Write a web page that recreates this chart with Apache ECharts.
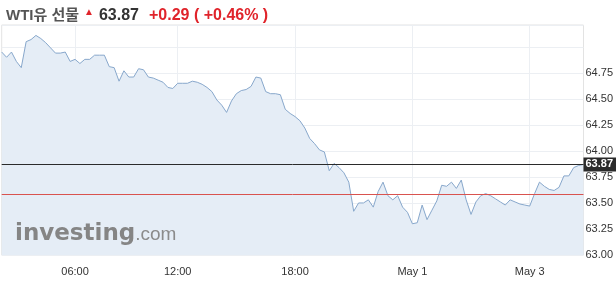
<!DOCTYPE html>
<html><head><meta charset="utf-8">
<script src="https://cdn.jsdelivr.net/npm/echarts@6/dist/echarts.min.js"></script>
<style>html,body{margin:0;padding:0;background:#fff}#c{width:616px;height:290px}</style>
</head><body><div id="c"></div>
<script>
const instrument = 'WTI유 선물';
const lastPrice = 63.87;
const prevClose = 63.58;
const changeAbs = '+0.29';
const changePct = '+0.46%';
const priceValues = [
  64.95, 64.90, 64.95, 64.86, 64.80, 65.05, 65.07, 65.11, 65.08, 65.04,
  64.99, 64.94, 64.94, 64.95, 64.86, 64.88, 64.84, 64.88, 64.88, 64.92,
  64.92, 64.92, 64.81, 64.80, 64.67, 64.77, 64.71, 64.71, 64.79, 64.78,
  64.71, 64.70, 64.68, 64.66, 64.61, 64.60, 64.65, 64.65, 64.65, 64.67,
  64.66, 64.64, 64.61, 64.57, 64.49, 64.44, 64.37, 64.48, 64.55, 64.58,
  64.59, 64.62, 64.71, 64.70, 64.57, 64.55, 64.55, 64.54, 64.40, 64.36,
  64.33, 64.29, 64.22, 64.12, 64.07, 64.01, 63.99, 63.81, 63.88, 63.84,
  63.79, 63.70, 63.42, 63.50, 63.50, 63.53, 63.46, 63.61, 63.70, 63.57,
  63.53, 63.57, 63.46, 63.41, 63.30, 63.31, 63.48, 63.34, 63.43, 63.52,
  63.67, 63.66, 63.70, 63.64, 63.72, 63.53, 63.39, 63.51, 63.57, 63.59,
  63.57, 63.54, 63.51, 63.48, 63.53, 63.51, 63.49, 63.48, 63.47, 63.59,
  63.70, 63.66, 63.63, 63.62, 63.65, 63.76, 63.76, 63.84, 63.86, 63.87
];
const xTickIndex = [15, 36, 60, 84, 108];
const xTickLabels = ['06:00', '12:00', '18:00', 'May 1', 'May 3'];
const yTickValues = [63.00, 63.25, 63.50, 63.75, 64.00, 64.25, 64.50, 64.75];
const yTickLabels = ['63.00', '63.25', '63.50', '63.75', '64.00', '64.25', '64.50', '64.75'];

const categories = priceValues.map((_, i) => String(i));
const red = '#e0242b';
const chart = echarts.init(document.getElementById('c'), null, {renderer: 'canvas'});
chart.setOption({
  animation: false,
  backgroundColor: '#fff',
  title: {
    left: 1, top: 1,
    text: `{a|${instrument}} {u|▲} {b|${lastPrice.toFixed(2)}}  {c|${changeAbs} ( ${changePct} )}`,
    textStyle: {
      rich: {
        a: {fontSize: 15, color: '#555', fontFamily: 'Liberation Sans, Noto Sans CJK KR', lineHeight: 20},
        u: {fontSize: 10, color: red, padding: [0, 0, 7, 0], lineHeight: 20},
        b: {fontSize: 16, color: '#333', fontFamily: 'Liberation Sans', lineHeight: 20},
        c: {fontSize: 16, color: red, fontFamily: 'Liberation Sans', lineHeight: 20}
      }
    }
  },
  grid: {left: 1.7, right: 30.3, top: 25, bottom: 35, show: true, borderColor: '#e3e3e3', borderWidth: 1},
  xAxis: {
    type: 'category', data: categories, boundaryGap: false,
    axisLine: {show: false}, axisTick: {show: false},
    axisLabel: {
      interval: (i) => xTickIndex.includes(i),
      formatter: (v) => { const k = xTickIndex.indexOf(Number(v)); return k >= 0 ? xTickLabels[k] : ''; },
      color: '#333', fontSize: 11, margin: 11, fontFamily: 'Liberation Sans'
    },
    splitLine: {show: true, interval: (i) => xTickIndex.includes(i), lineStyle: {color: '#eceff3'}}
  },
  yAxis: {
    type: 'value', position: 'right', min: 63, max: 65.21, interval: 0.25,
    axisLine: {show: false}, axisTick: {show: false},
    axisLabel: {
      formatter: (v) => { const k = yTickValues.findIndex(t => Math.abs(t - v) < 1e-6); return k >= 0 ? yTickLabels[k] : ''; },
      color: '#333', fontSize: 11, margin: 2, fontFamily: 'Liberation Sans'
    },
    splitLine: {show: true, lineStyle: {color: '#eceff3'}}
  },
  graphic: [
    {type: 'text', left: 15, top: 223, z: 5, style: {
      text: '{a|investing}{b|.com}',
      rich: {
        a: {fontSize: 23, fontWeight: 'bold', fontFamily: 'DejaVu Sans', fill: '#858585'},
        b: {fontSize: 19, fontFamily: 'Liberation Sans', fill: '#8b8b8b'}
      }
    }}
  ],
  series: [{
    type: 'line', data: priceValues, symbol: 'none', smooth: false,
    lineStyle: {color: '#87a7cb', width: 1},
    areaStyle: {color: '#e5edf6', opacity: 1},
    markLine: {
      silent: true, symbol: ['none', 'none'], animation: false,
      data: [
        {yAxis: lastPrice, lineStyle: {color: '#2b2b2b', width: 1, type: 'solid'},
          label: {show: true, position: 'end', formatter: lastPrice.toFixed(2), backgroundColor: '#2b2b2b',
            color: '#fff', padding: [2, 3, 1, 2], distance: 0, fontSize: 11, fontWeight: 'bold', fontFamily: 'Liberation Sans'}},
        {yAxis: prevClose, lineStyle: {color: '#d9534f', width: 1, type: 'solid'}, label: {show: false}}
      ]
    }
  }]
});
</script></body></html>
